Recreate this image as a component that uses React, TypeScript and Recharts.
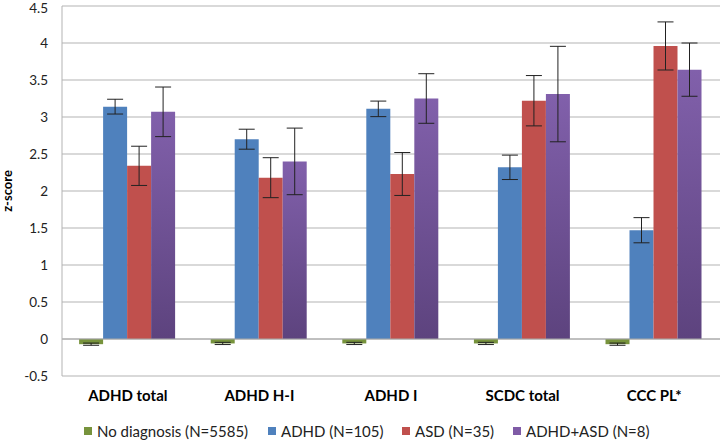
import React from 'react';
import { BarChart, Bar, XAxis, YAxis, CartesianGrid, ErrorBar, ReferenceLine, Legend } from 'recharts';

const categories = ['ADHD total', 'ADHD H-I', 'ADHD I', 'SCDC total', 'CCC PL*'];
const noDiagnosis = [-0.07, -0.06, -0.06, -0.06, -0.07];
const noDiagnosisErr = [0.015, 0.015, 0.015, 0.015, 0.015];
const adhd = [3.14, 2.70, 3.11, 2.32, 1.47];
const adhdErr = [0.10, 0.135, 0.105, 0.165, 0.17];
const asd = [2.34, 2.18, 2.23, 3.22, 3.96];
const asdErr = [0.265, 0.27, 0.29, 0.34, 0.325];
const both = [3.07, 2.40, 3.25, 3.31, 3.64];
const bothErr = [0.335, 0.45, 0.335, 0.645, 0.36];
const yTicks = [-0.5, 0, 0.5, 1, 1.5, 2, 2.5, 3, 3.5, 4, 4.5];

const seriesNames = ['No diagnosis (N=5585)', 'ADHD (N=105)', 'ASD (N=35)', 'ADHD+ASD (N=8)'];
const seriesColors = ['#77933C', '#4F81BD', '#C0504D', '#7F5BA6'];
const legendLeft = [84, 268, 402, 513];

const data = categories.map((c, i) => ({
  name: c,
  nd: noDiagnosis[i], ndErr: noDiagnosisErr[i],
  adhd: adhd[i], adhdErr: adhdErr[i],
  asd: asd[i], asdErr: asdErr[i],
  both: both[i], bothErr: bothErr[i],
}));

const FONT = 'Lato, "Liberation Sans", sans-serif';

const LegendContent = () => (
  <div style={{ position: 'relative', width: 722, height: 18, fontFamily: FONT, fontSize: 15, color: '#222' }}>
    {seriesNames.map((n, i) => (
      <div key={n} style={{ position: 'absolute', left: legendLeft[i], top: 0, display: 'flex', alignItems: 'center', whiteSpace: 'nowrap', lineHeight: '18px' }}>
        <span style={{ display: 'inline-block', width: 8, height: 8, background: seriesColors[i], marginRight: 5 }} />
        <span>{n}</span>
      </div>
    ))}
  </div>
);

export default function App() {
  return (
    <div style={{ position: 'absolute', left: 0, top: 0, width: 722, height: 440, background: '#fff' }}>
      <BarChart width={722} height={440} data={data} margin={{ top: 6, right: 2, left: 10, bottom: 0 }} barGap={0} barCategoryGap="13%">
        <defs>
          <linearGradient id="purpleGrad" x1="0" y1="0" x2="0" y2="1">
            <stop offset="0%" stopColor="#8160AB" />
            <stop offset="100%" stopColor="#5D437E" />
          </linearGradient>
        </defs>
        <CartesianGrid vertical={false} stroke="#B3B3B3" strokeWidth={1} />
        <XAxis dataKey="name" axisLine={false} tickLine={false} height={46} tickMargin={8}
          tick={{ fontFamily: FONT, fontSize: 15, fontWeight: 700, fill: '#000' }} interval={0} />
        <YAxis domain={[-0.5, 4.5]} ticks={yTicks} width={52} axisLine={{ stroke: '#B3B3B3' }} tickLine={false}
          tick={{ fontFamily: FONT, fontSize: 13.5, fill: '#222' }} tickMargin={8}
          label={{ value: 'z-score', angle: -90, position: 'insideLeft', offset: -3, style: { fontFamily: FONT, fontSize: 13, fontWeight: 700, fill: '#000', textAnchor: 'middle' } }} />
        <ReferenceLine y={0} stroke="#A6A6A6" strokeWidth={1} />
        <Legend verticalAlign="bottom" height={18} wrapperStyle={{ left: 0, width: 722 }} content={<LegendContent />} />
        <Bar dataKey="nd" name={seriesNames[0]} fill={seriesColors[0]} isAnimationActive={false}>
          <ErrorBar dataKey="ndErr" width={8} stroke="#222" strokeWidth={1} />
        </Bar>
        <Bar dataKey="adhd" name={seriesNames[1]} fill={seriesColors[1]} isAnimationActive={false}>
          <ErrorBar dataKey="adhdErr" width={8} stroke="#222" strokeWidth={1} />
        </Bar>
        <Bar dataKey="asd" name={seriesNames[2]} fill={seriesColors[2]} isAnimationActive={false}>
          <ErrorBar dataKey="asdErr" width={8} stroke="#222" strokeWidth={1} />
        </Bar>
        <Bar dataKey="both" name={seriesNames[3]} fill="url(#purpleGrad)" isAnimationActive={false}>
          <ErrorBar dataKey="bothErr" width={8} stroke="#222" strokeWidth={1} />
        </Bar>
      </BarChart>
    </div>
  );
}
